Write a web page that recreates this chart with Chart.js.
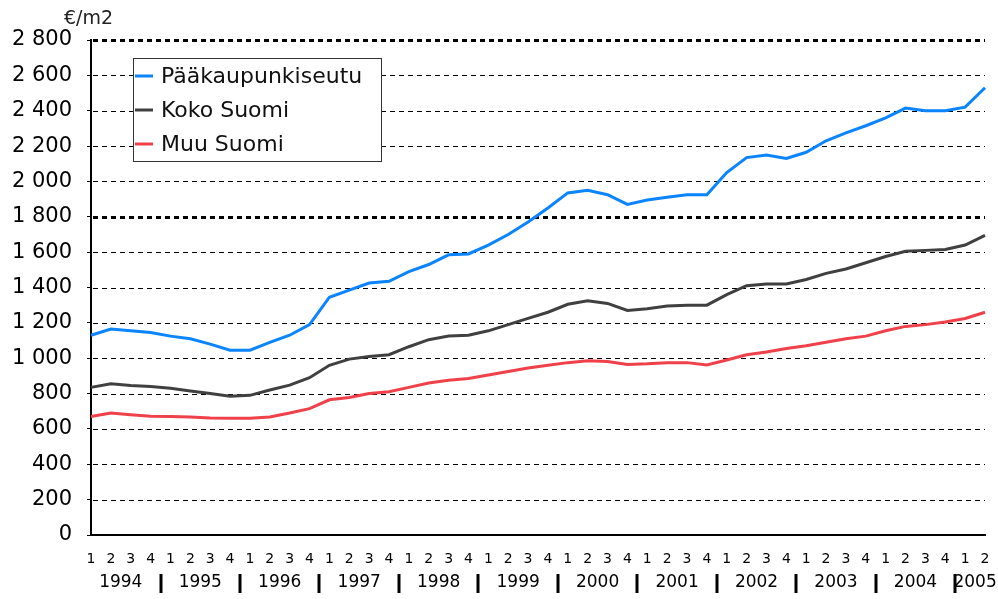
<!DOCTYPE html>
<html lang="fi">
<head>
    <meta charset="UTF-8">
    <title>Neliöhinnat</title>
    <style>
        body { margin: 0; background: #fff; }
        .chart-box { width: 998px; height: 599px; position: relative; }
    </style>
</head>
<body>
    <div class="chart-box">
        <canvas id="priceChart"></canvas>
    </div>

    <script src="https://cdn.jsdelivr.net/npm/chart.js"></script>
    <script>
        // data, quarters 1994Q1 .. 2005Q2
        const years = ['1994', '1995', '1996', '1997', '1998', '1999', '2000', '2001', '2002', '2003', '2004', '2005'];
        const quarterNames = ['1', '2', '3', '4'];
        const seriesNames = ['Pääkaupunkiseutu', 'Koko Suomi', 'Muu Suomi'];
        const unitLabel = '€/m2';

        const capital = [1130, 1165, 1155, 1145, 1125, 1110, 1080, 1045, 1045, 1090, 1130, 1190,
                         1345, 1385, 1425, 1435, 1490, 1530, 1585, 1590, 1640, 1700, 1770, 1850,
                         1935, 1950, 1925, 1870, 1895, 1910, 1925, 1925, 2050, 2135, 2150, 2130,
                         2165, 2230, 2275, 2315, 2360, 2415, 2400, 2400, 2420, 2530];
        const wholeCountry = [835, 855, 845, 840, 830, 815, 800, 785, 790, 820, 848, 890,
                              960, 995, 1010, 1020, 1065, 1105, 1125, 1130, 1155, 1190, 1225, 1260,
                              1305, 1325, 1310, 1270, 1280, 1295, 1300, 1300, 1360, 1410, 1420, 1420,
                              1445, 1480, 1505, 1540, 1575, 1605, 1610, 1615, 1640, 1695];
        const restOfCountry = [670, 690, 680, 672, 670, 668, 662, 660, 660, 668, 690, 715,
                               765, 778, 800, 810, 835, 860, 875, 885, 905, 925, 945, 960,
                               975, 985, 982, 965, 968, 975, 975, 962, 990, 1020, 1035, 1055,
                               1070, 1090, 1110, 1125, 1155, 1180, 1190, 1205, 1225, 1260];

        const yMax = 2800;
        const yStep = 200;
        const boldGrid = [1800, 2800];

        const labels = capital.map((v, i) => quarterNames[i % 4]);
        const colors = ['#0a84ff', '#404040', '#f0404a'];
        const FONT = 'DejaVu Sans';

        // dashed grid lines, two of them bold
        const gridPlugin = {
            id: 'dashGrid',
            beforeDatasetsDraw(chart) {
                const ctx = chart.ctx;
                const area = chart.chartArea;
                const y = chart.scales.y;
                ctx.save();
                ctx.strokeStyle = '#000';
                y.ticks.forEach(t => {
                    if (t.value === 0) return;
                    const py = Math.round(y.getPixelForValue(t.value)) + 0.5;
                    ctx.lineWidth = boldGrid.includes(t.value) ? 3 : 1;
                    ctx.setLineDash(boldGrid.includes(t.value) ? [5, 4] : [5, 4]);
                    ctx.beginPath();
                    ctx.moveTo(area.left + 2, py);
                    ctx.lineTo(area.right, py);
                    ctx.stroke();
                });
                ctx.restore();
            }
        };

        // year labels under the quarter numbers, legend box and unit text
        const extrasPlugin = {
            id: 'extras',
            afterDraw(chart) {
                const ctx = chart.ctx;
                const area = chart.chartArea;
                const x = chart.scales.x;
                const n = labels.length;
                ctx.save();
                ctx.fillStyle = '#000';
                ctx.strokeStyle = '#000';
                ctx.font = '17px "' + FONT + '"';
                ctx.textAlign = 'center';
                ctx.textBaseline = 'middle';
                years.forEach((yr, k) => {
                    const first = k * 4;
                    const last = Math.min(first + 3, n - 1);
                    const cx = (x.getPixelForValue(first) + x.getPixelForValue(last)) / 2;
                    ctx.fillText(yr, cx, area.bottom + 48);
                    if (last + 1 < n) {
                        const sx = Math.round((x.getPixelForValue(last) + x.getPixelForValue(last + 1)) / 2);
                        ctx.lineWidth = 3;
                        ctx.beginPath();
                        ctx.moveTo(sx, area.bottom + 39);
                        ctx.lineTo(sx, area.bottom + 58);
                        ctx.stroke();
                    }
                });

                // unit
                ctx.font = '19px "' + FONT + '"';
                ctx.textAlign = 'left';
                ctx.fillStyle = '#222';
                ctx.fillText(unitLabel, 64, 19);

                // legend
                const lx = area.left + 42, ly = area.top + 18, lw = 248, lh = 103;
                ctx.fillStyle = '#fff';
                ctx.fillRect(lx, ly, lw, lh);
                ctx.lineWidth = 1;
                ctx.strokeStyle = '#333';
                ctx.strokeRect(lx + 0.5, ly + 0.5, lw, lh);
                ctx.font = '22px "' + FONT + '"';
                chart.data.datasets.forEach((ds, i) => {
                    const ry = ly + 18 + i * 34;
                    ctx.strokeStyle = ds.borderColor;
                    ctx.lineWidth = 3;
                    ctx.beginPath();
                    ctx.moveTo(lx + 2, ry);
                    ctx.lineTo(lx + 20, ry);
                    ctx.stroke();
                    ctx.fillStyle = '#111';
                    ctx.fillText(ds.label, lx + 28, ry + 1);
                });
                ctx.restore();
            }
        };

        const ctx = document.getElementById('priceChart').getContext('2d');
        const priceChart = new Chart(ctx, {
            type: 'line',
            data: {
                labels: labels,
                datasets: [
                    { label: seriesNames[0], data: capital, borderColor: colors[0] },
                    { label: seriesNames[1], data: wholeCountry, borderColor: colors[1] },
                    { label: seriesNames[2], data: restOfCountry, borderColor: colors[2] }
                ].map(d => Object.assign(d, { borderWidth: 3, pointRadius: 0, tension: 0, fill: false }))
            },
            options: {
                responsive: true,
                maintainAspectRatio: false,
                animation: false,
                layout: { padding: { left: 0, right: 13, top: 40, bottom: 0 } },
                plugins: {
                    legend: { display: false },
                    tooltip: { enabled: false }
                },
                scales: {
                    x: {
                        offset: false,
                        grid: { display: false },
                        border: { display: true, color: '#000', width: 2 },
                        ticks: {
                            autoSkip: false,
                            maxRotation: 0,
                            color: '#000',
                            padding: 8,
                            font: { family: FONT, size: 14 }
                        },
                        afterFit(scale) { scale.height = 64; }
                    },
                    y: {
                        min: 0,
                        max: yMax,
                        grid: { drawOnChartArea: false, drawTicks: true, tickLength: 4, color: '#000' },
                        border: { display: true, color: '#000', width: 2 },
                        ticks: {
                            stepSize: yStep,
                            color: '#000',
                            padding: 15,
                            font: { family: FONT, size: 21 },
                            callback: v => v >= 1000 ? Math.floor(v / 1000) + ' ' + String(v % 1000).padStart(3, '0') : String(v)
                        },
                        afterFit(scale) { scale.width = 91; }
                    }
                }
            },
            plugins: [gridPlugin, extrasPlugin]
        });
    </script>
</body>
</html>
